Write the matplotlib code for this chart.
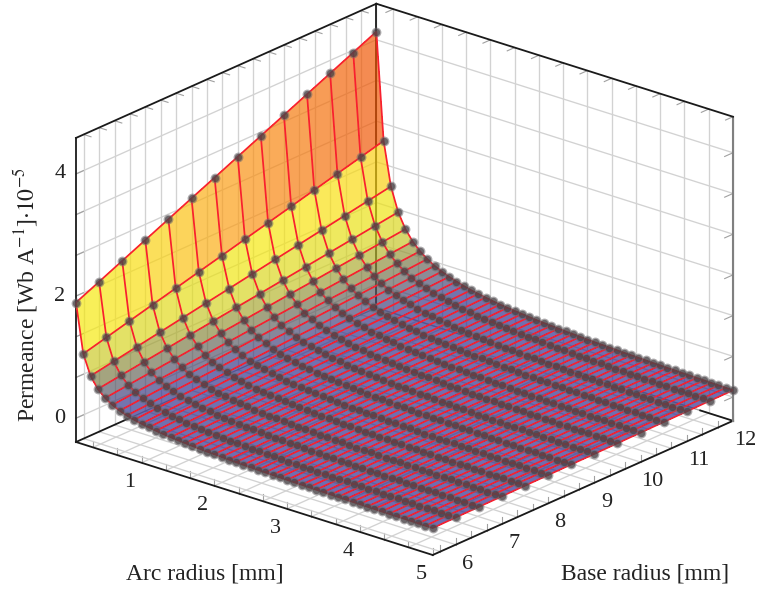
import numpy as np
import matplotlib
matplotlib.use('Agg')
import matplotlib.pyplot as plt
from matplotlib.colors import LinearSegmentedColormap
from mpl_toolkits.mplot3d import proj3d

plt.rcParams['font.family'] = ['Liberation Serif']
plt.rcParams['mathtext.fontset'] = 'stix'

arc_radius = [0.1, 0.2, 0.3, 0.4, 0.5, 0.6, 0.7, 0.8, 0.9, 1.0,
              1.1, 1.2, 1.3, 1.4, 1.5, 1.6, 1.7, 1.8, 1.9, 2.0,
              2.1, 2.2, 2.3, 2.4, 2.5, 2.6, 2.7, 2.8, 2.9, 3.0,
              3.1, 3.2, 3.3, 3.4, 3.5, 3.6, 3.7, 3.8, 3.9, 4.0,
              4.1, 4.2, 4.3, 4.4, 4.5, 4.6, 4.7, 4.8, 4.9, 5.0]
base_radius = [5.5, 6.0, 6.5, 7.0, 7.5, 8.0, 8.5, 9.0, 9.5, 10.0, 10.5, 11.0, 11.5, 12.0]

# one row per base radius
perm_55 = [1.894,1.092,.767,.591,.481,.405,.350,.308,.275,.249,.227,.209,.193,.179,.168,.158,.148,.140,.133,.127,.121,.115,.110,.106,.102,.098,.094,.091,.088,.085,.082,.080,.077,.075,.073,.071,.069,.067,.065,.064,.062,.061,.059,.058,.057,.056,.054,.053,.052,.051]
perm_60 = [2.066,1.191,.837,.645,.525,.442,.382,.336,.300,.272,.248,.228,.211,.195,.183,.172,.161,.153,.145,.139,.132,.125,.120,.116,.111,.107,.103,.099,.096,.093,.089,.087,.084,.082,.080,.077,.075,.073,.071,.070,.068,.067,.064,.063,.062,.061,.059,.058,.057,.056]
perm_65 = [2.239,1.291,.907,.699,.569,.479,.414,.364,.325,.294,.268,.247,.228,.212,.199,.187,.175,.165,.157,.150,.143,.136,.130,.125,.121,.116,.111,.108,.104,.100,.097,.095,.091,.089,.086,.084,.082,.079,.077,.076,.073,.072,.070,.069,.067,.066,.064,.063,.061,.060]
perm_70 = [2.411,1.390,.976,.752,.612,.516,.446,.392,.350,.317,.289,.266,.246,.228,.214,.201,.188,.178,.169,.162,.154,.146,.140,.135,.130,.125,.120,.116,.112,.108,.104,.102,.098,.095,.093,.090,.088,.085,.083,.081,.079,.078,.075,.074,.073,.071,.069,.067,.066,.065]
perm_75 = [2.583,1.489,1.046,.806,.656,.552,.477,.420,.375,.340,.310,.285,.263,.244,.229,.216,.202,.191,.181,.173,.165,.157,.150,.145,.139,.134,.128,.124,.120,.116,.112,.109,.105,.102,.100,.097,.094,.091,.089,.087,.085,.083,.080,.079,.078,.076,.074,.072,.071,.070]
perm_80 = [2.756,1.589,1.116,.860,.700,.589,.509,.448,.400,.362,.330,.304,.281,.260,.244,.230,.215,.204,.194,.185,.176,.167,.160,.154,.148,.143,.137,.132,.128,.124,.119,.116,.112,.109,.106,.103,.100,.097,.095,.093,.090,.089,.086,.084,.083,.081,.079,.077,.076,.074]
perm_85 = [2.926,1.687,1.185,.913,.743,.626,.541,.476,.425,.385,.351,.323,.298,.277,.260,.244,.229,.216,.205,.196,.187,.178,.170,.164,.158,.151,.145,.141,.136,.131,.127,.124,.119,.116,.113,.110,.107,.104,.100,.099,.096,.094,.091,.090,.088,.087,.083,.082,.080,.079]
perm_90 = [3.099,1.787,1.255,.967,.787,.663,.573,.504,.450,.407,.371,.342,.316,.293,.275,.258,.242,.229,.218,.208,.198,.188,.180,.173,.167,.160,.154,.149,.144,.139,.134,.131,.126,.123,.119,.116,.113,.110,.106,.105,.101,.100,.097,.095,.093,.092,.088,.087,.085,.083]
perm_95 = [3.271,1.886,1.325,1.021,.831,.699,.604,.532,.475,.430,.392,.361,.333,.309,.290,.273,.256,.242,.230,.219,.209,.199,.190,.183,.176,.169,.162,.157,.152,.147,.142,.138,.133,.130,.126,.123,.119,.116,.112,.111,.107,.105,.102,.100,.098,.097,.093,.092,.090,.088]
perm_100 = [3.443,1.985,1.394,1.074,.874,.736,.636,.560,.500,.453,.413,.380,.351,.325,.305,.287,.269,.255,.242,.231,.220,.209,.200,.193,.185,.178,.171,.165,.160,.155,.149,.145,.140,.136,.133,.129,.125,.122,.118,.116,.113,.111,.107,.105,.104,.102,.098,.096,.095,.093]
perm_105 = [3.616,2.085,1.464,1.128,.918,.773,.668,.588,.525,.475,.433,.399,.368,.342,.321,.302,.283,.267,.254,.242,.231,.220,.210,.202,.195,.187,.179,.174,.168,.162,.157,.153,.147,.143,.139,.136,.132,.128,.124,.122,.118,.116,.113,.111,.109,.107,.103,.101,.099,.097]
perm_110 = [3.788,2.184,1.534,1.182,.962,.810,.700,.616,.550,.498,.454,.418,.386,.358,.336,.316,.296,.280,.266,.254,.242,.230,.220,.212,.204,.196,.188,.182,.176,.170,.164,.160,.154,.150,.146,.142,.138,.134,.130,.128,.124,.122,.118,.116,.114,.112,.108,.106,.104,.102]
perm_115 = [3.960,2.283,1.604,1.236,1.006,.847,.732,.644,.575,.521,.475,.437,.404,.374,.351,.330,.309,.293,.278,.266,.253,.240,.230,.222,.213,.205,.197,.190,.184,.178,.171,.167,.161,.157,.153,.148,.144,.140,.136,.134,.130,.128,.123,.121,.119,.117,.113,.111,.109,.107]
perm_120 = [4.133,2.383,1.674,1.290,1.050,.884,.764,.672,.600,.543,.495,.456,.421,.391,.367,.345,.323,.305,.290,.277,.264,.251,.240,.231,.223,.214,.205,.199,.192,.185,.179,.175,.168,.164,.159,.155,.151,.146,.142,.140,.135,.133,.129,.127,.124,.122,.118,.116,.113,.111]

x_ticks = [1, 2, 3, 4, 5]
y_ticks = [6, 7, 8, 9, 10, 11, 12]
z_ticks = [0, 2, 4]

W, H = 763, 592
xmin, xmax = 0.1, 5.0
ymin, ymax = 5.5, 12.0
zmin, zmax = -0.39, 4.59

X, Y = np.meshgrid(arc_radius, base_radius)
Z = np.array([perm_55, perm_60, perm_65, perm_70, perm_75, perm_80, perm_85,
              perm_90, perm_95, perm_100, perm_105, perm_110, perm_115, perm_120])

fig = plt.figure(figsize=(W / 100, H / 100), dpi=100)
ax = fig.add_axes([0, 0, 1, 1], projection='3d', proj_type='ortho', computed_zorder=False)
ax.view_init(elev=22.1, azim=-49.9)
ax.set_box_aspect((466, 466, 328))
ax.set_xlim(xmin, xmax)
ax.set_ylim(ymin, ymax)
ax.set_zlim(zmin, zmax)
ax.set_axis_off()
ax.patch.set_visible(False)


def to_px(x, y, z):
    ax.apply_aspect()
    xs, ys, _ = proj3d.proj_transform(x, y, z, ax.get_proj())
    return ax.transData.transform((xs, ys))


def fit_axes(side, cx, cy):
    ax.set_position([(cx - side / 2) / W, (cy - side / 2) / H, side / W, side / H])


# put the box where the reference has it (left corner 76,442 / right corner 733,421)
side, cx, cy = 592.0, W / 2, H / 2
for i in range(3):
    fit_axes(side, cx, cy)
    a = to_px(xmin, ymin, zmin)
    b = to_px(xmax, ymax, zmin)
    side *= 657 / (b[0] - a[0])
    fit_axes(side, cx, cy)
    a = to_px(xmin, ymin, zmin)
    cx += 76 - a[0]
    cy += (H - 442) - a[1]
fit_axes(side, cx, cy)


def seg(p0, p1, **kw):
    ax.plot([p0[0], p1[0]], [p0[1], p1[1]], [p0[2], p1[2]], **kw)


grid_kw = dict(color='#d2d2d2', lw=0.95, zorder=1)
tick_kw = dict(color='#a0a0a0', lw=0.8, zorder=1)
box_kw = dict(color='#1a1a1a', lw=1.3, zorder=2, solid_capstyle='projecting')
hidden_kw = dict(color='#a0a0a0', lw=0.9, zorder=2)
side_kw = dict(color='#808080', lw=1.5, zorder=2)

x_grid = [1 / 3 * i for i in range(1, 16)]
y_grid = [5 + 1 / 3 * i for i in range(2, 22)]
z_grid = [2 / 3 * i for i in range(0, 7)]

for v in x_grid:
    seg((v, ymin, zmin), (v, ymax, zmin), **grid_kw)
    seg((v, ymax, zmin), (v, ymax, zmax), **grid_kw)
    seg((v, ymin, zmin), (v, ymin, zmin + 0.11), **tick_kw)
    seg((v, ymax, zmax), (v, ymax - 0.16, zmax), **tick_kw)
for v in y_grid:
    seg((xmin, v, zmin), (xmax, v, zmin), **grid_kw)
    seg((xmin, v, zmin), (xmin, v, zmax), **grid_kw)
    seg((xmax, v, zmin), (xmax, v, zmin + 0.11), **tick_kw)
    seg((xmin, v, zmax), (xmin + 0.1, v, zmax), **tick_kw)
for v in z_grid:
    seg((xmin, ymin, v), (xmin, ymax, v), **grid_kw)
    seg((xmin, ymax, v), (xmax, ymax, v), **grid_kw)
    seg((xmin, ymin, v), (xmin, ymin + 0.16, v), **tick_kw)
    seg((xmax, ymax, v), (xmax, ymax - 0.18, v), **tick_kw)

# the box, back floor edges mostly sit behind the surface
seg((xmin, ymin, zmin), (xmax, ymin, zmin), **box_kw)
seg((xmax, ymin, zmin), (xmax, ymax, zmin), **box_kw)
seg((xmin, ymin, zmin), (xmin, 6.6, zmin), **box_kw)
seg((xmin, 6.6, zmin), (xmin, ymax, zmin), **hidden_kw)
seg((xmin, ymax, zmin), (4.55, ymax, zmin), **hidden_kw)
seg((4.55, ymax, zmin), (xmax, ymax, zmin), **box_kw)
seg((xmin, ymin, zmin), (xmin, ymin, zmax), **box_kw)
seg((xmin, ymax, zmin), (xmin, ymax, zmax), **box_kw)
seg((xmax, ymax, zmin), (xmax, ymax, zmax), **side_kw)
seg((xmin, ymin, zmax), (xmin, ymax, zmax), **box_kw)
seg((xmin, ymax, zmax), (xmax, ymax, zmax), **box_kw)

hot = LinearSegmentedColormap.from_list('hot_pgf', [
    (0, '#2a2a8c'), (0.08, '#30308a'), (0.165, '#7d7d3f'), (0.23, '#d2d120'),
    (0.37, '#f5e80a'), (0.45, '#fadc0c'), (0.57, '#fc9b11'), (0.77, '#f05500'), (1, '#dc2800')])
ax.plot_surface(X, Y, Z, rstride=1, cstride=1, cmap=hot, vmin=Z.min(), vmax=Z.max(),
                alpha=0.68, shade=False, antialiased=False, linewidth=0, zorder=3)
ax.plot_wireframe(X, Y, Z, rstride=1, cstride=1, color='#f8202f', lw=1.25, zorder=4)
# soft outer ring and darker core, the markers are shaded balls
ax.scatter(X.ravel(), Y.ravel(), Z.ravel(), s=50, c='#6a666a', alpha=0.55, linewidths=0,
           depthshade=False, zorder=5)
ax.scatter(X.ravel(), Y.ravel(), Z.ravel(), s=28, c='#40383c', alpha=0.6, linewidths=0,
           depthshade=False, zorder=6)

txt = '#222222'
tick_fs = 16
label_fs = 17


def tick_text(p, dx, dy, s):
    px = to_px(*p)
    fig.text((px[0] + dx) / W, (px[1] + dy) / H, s, fontsize=tick_fs, color=txt,
             ha='center', va='center')


for t in x_ticks:
    tick_text((t, ymin, zmin), -11.6, -20, str(t))
for t in y_ticks:
    tick_text((xmax, t, zmin), 12, -19.5, str(t))
for t in z_ticks:
    tick_text((xmin, ymin, t), -16, 0, str(t))

fig.text(205 / W, 1 - 574 / H, 'Arc radius [mm]', fontsize=label_fs, color=txt, ha='center', va='center')
fig.text(645 / W, 1 - 574 / H, 'Base radius [mm]', fontsize=label_fs, color=txt, ha='center', va='center')
fig.text(26 / W, 1 - 295 / H, 'Permeance [Wb A$^{-1}$]$\\cdot 10^{-5}$', fontsize=label_fs, color=txt,
         rotation=90, ha='center', va='center')

fig.savefig('out.png', dpi=100)
